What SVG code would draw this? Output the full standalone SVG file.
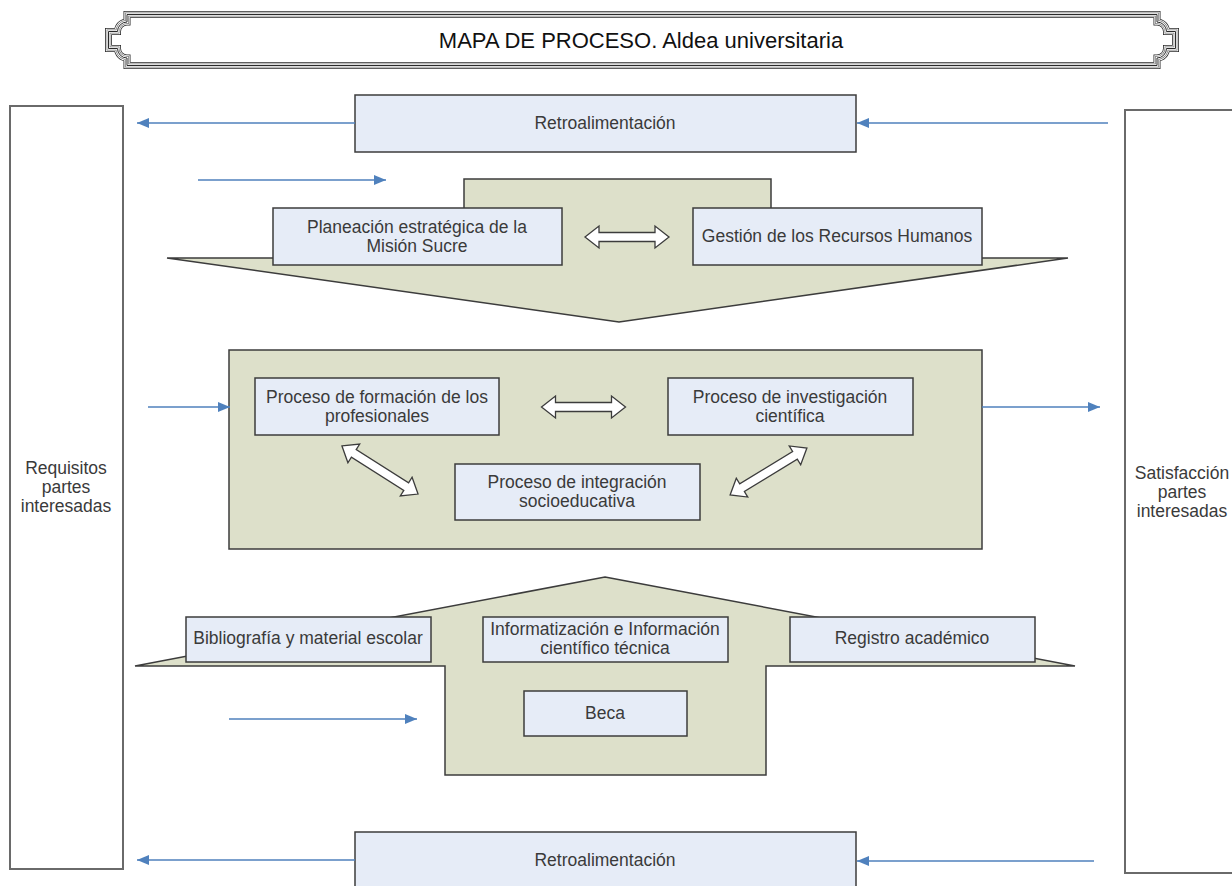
<svg xmlns="http://www.w3.org/2000/svg" width="1232" height="886" viewBox="0 0 1232 886">
  <style>
    .lbl { font-family: "Liberation Sans", Arial, sans-serif; font-size: 17.5px; fill: #3a3a3a; text-anchor: middle; }
    .title { font-family: "Liberation Sans", Arial, sans-serif; font-size: 22px; fill: #111; text-anchor: middle; }
    .box { fill: #e6ecf7; stroke: #3c3c3c; stroke-width: 1.5; }
    .side { fill: #ffffff; stroke: #6a6a6a; stroke-width: 2; }
    .band { fill: #dde0ca; stroke: #3c3c3c; stroke-width: 1.5; }
    .flow { stroke: #4f81bd; stroke-width: 1.6; fill: none; marker-end: url(#tip); }
    .dbl { fill: #ffffff; stroke: #3c3c3c; stroke-width: 1.3; }
  </style>
  <defs>
    <marker id="tip" markerUnits="userSpaceOnUse" markerWidth="12" markerHeight="10" refX="12" refY="5" orient="auto">
      <path d="M0,0 L12,5 L0,10 Z" fill="#4f81bd"/>
    </marker>
    <!-- hollow two-way arrows, centred on the origin -->
    <path id="dblH" d="M-42,0 L-28,-11 V-4.5 H28 V-11 L42,0 L28,11 V4.5 H-28 V11 Z"/>
    <path id="dblD" d="M-45,0 L-31,-11 V-4.5 H31 V-11 L45,0 L31,11 V4.5 H-31 V11 Z"/>
    <!-- plaque outline; stroked several times to get a multi-line frame -->
    <path id="frame" d="M127,14.5 H1157 V22 A9.5,9.5 0 0 1 1166.5,31.5 H1175.5 V48.5 H1166.5 A9.5,9.5 0 0 1 1157,58 V65.5 H127 V58 A9.5,9.5 0 0 1 117.5,48.5 H108.5 V31.5 H117.5 A9.5,9.5 0 0 1 127,22 Z"/>
  </defs>

  <rect width="1232" height="886" fill="#ffffff"/>

  <!-- title plaque with layered frame -->
  <g id="title">
    <g fill="none">
      <use href="#frame" stroke="#2a2a2a" stroke-width="7"/>
      <use href="#frame" stroke="#ffffff" stroke-width="5.4"/>
      <use href="#frame" stroke="#777777" stroke-width="3.8"/>
      <use href="#frame" stroke="#ffffff" stroke-width="2.4"/>
      <use href="#frame" stroke="#2a2a2a" stroke-width="1"/>
    </g>
    <text class="title" x="641" y="48">MAPA DE PROCESO. Aldea universitaria</text>
  </g>

  <!-- stakeholder columns -->
  <g id="requisitos">
    <rect class="side" x="10" y="106" width="113" height="763"/>
    <text class="lbl" x="66" y="474">Requisitos</text>
    <text class="lbl" x="66" y="493">partes</text>
    <text class="lbl" x="66" y="512">interesadas</text>
  </g>
  <g id="satisfaccion">
    <rect class="side" x="1125" y="110" width="113" height="763"/>
    <text class="lbl" x="1182" y="479">Satisfacción</text>
    <text class="lbl" x="1182" y="498">partes</text>
    <text class="lbl" x="1182" y="517">interesadas</text>
  </g>

  <!-- feedback bars -->
  <g id="retro-top">
    <rect class="box" x="355" y="95" width="501" height="57"/>
    <text class="lbl" x="605" y="129">Retroalimentación</text>
  </g>
  <g id="retro-bottom">
    <rect class="box" x="355" y="832" width="501" height="60"/>
    <text class="lbl" x="605" y="866">Retroalimentación</text>
  </g>

  <!-- strategic processes band -->
  <g id="estrategicos">
    <path class="band" d="M464,179 H771 V258 H1068 L619,322 L167,258 H464 Z"/>
  </g>
  <g id="planeacion">
    <rect class="box" x="273" y="208" width="289" height="57"/>
    <text class="lbl" x="417" y="233">Planeación estratégica de la</text>
    <text class="lbl" x="417" y="252">Misión Sucre</text>
  </g>
  <g id="gestion-rrhh">
    <rect class="box" x="693" y="208" width="289" height="57"/>
    <text class="lbl" x="837" y="242">Gestión de los Recursos Humanos</text>
  </g>

  <!-- key processes band -->
  <g id="claves">
    <rect class="band" x="229" y="350" width="753" height="199"/>
  </g>
  <g id="formacion">
    <rect class="box" x="255" y="378" width="244" height="57"/>
    <text class="lbl" x="377" y="403">Proceso de formación de los</text>
    <text class="lbl" x="377" y="422">profesionales</text>
  </g>
  <g id="investigacion">
    <rect class="box" x="668" y="378" width="245" height="57"/>
    <text class="lbl" x="790" y="403">Proceso de investigación</text>
    <text class="lbl" x="790" y="422">científica</text>
  </g>
  <g id="integracion">
    <rect class="box" x="455" y="464" width="245" height="56"/>
    <text class="lbl" x="577" y="488">Proceso de integración</text>
    <text class="lbl" x="577" y="507">socioeducativa</text>
  </g>

  <!-- support processes band -->
  <g id="apoyo">
    <path class="band" d="M605,577 L1075,666 H766 V775 H445 V666 H135 Z"/>
  </g>
  <g id="bibliografia">
    <rect class="box" x="186" y="617" width="245" height="45"/>
    <text class="lbl" x="308" y="644">Bibliografía y material escolar</text>
  </g>
  <g id="informatizacion">
    <rect class="box" x="483" y="617" width="245" height="45"/>
    <text class="lbl" x="605" y="635">Informatización e Información</text>
    <text class="lbl" x="605" y="654">científico técnica</text>
  </g>
  <g id="registro">
    <rect class="box" x="790" y="617" width="245" height="45"/>
    <text class="lbl" x="912" y="644">Registro académico</text>
  </g>
  <g id="beca">
    <rect class="box" x="524" y="691" width="163" height="45"/>
    <text class="lbl" x="605" y="719">Beca</text>
  </g>

  <!-- connectors -->
  <g id="connectors">
    <line class="flow" x1="355" y1="123" x2="137" y2="123"/>
    <line class="flow" x1="1108" y1="123" x2="857" y2="123"/>
    <line class="flow" x1="198" y1="180" x2="386" y2="180"/>
    <line class="flow" x1="148" y1="407" x2="230" y2="407"/>
    <line class="flow" x1="982" y1="407" x2="1100" y2="407"/>
    <line class="flow" x1="229" y1="719" x2="417" y2="719"/>
    <line class="flow" x1="355" y1="860" x2="137" y2="860"/>
    <line class="flow" x1="1094" y1="861" x2="857" y2="861"/>
    <use class="dbl" href="#dblH" transform="translate(627,237)"/>
    <use class="dbl" href="#dblH" transform="translate(583.5,407)"/>
    <use class="dbl" href="#dblD" transform="translate(380,470) rotate(32.3)"/>
    <use class="dbl" href="#dblD" transform="translate(768.5,471.5) rotate(-31.4)"/>
  </g>
</svg>
